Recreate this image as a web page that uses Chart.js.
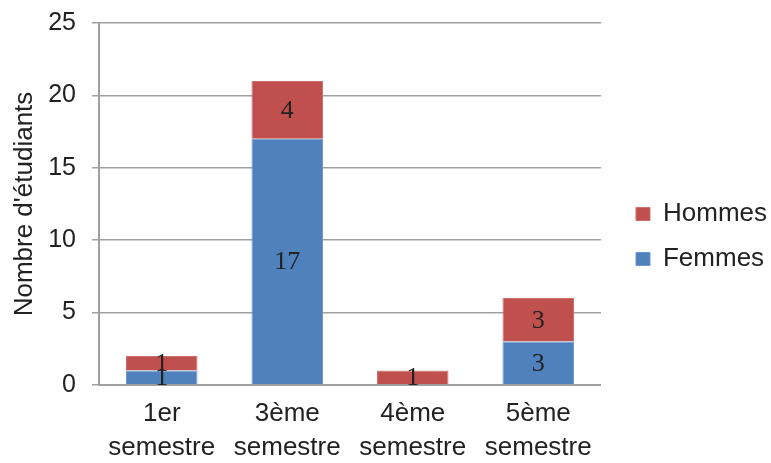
<!DOCTYPE html>
<html>
<head>
<meta charset="utf-8">
<script src="https://cdn.jsdelivr.net/npm/chart.js@4/dist/chart.umd.min.js"></script>
<style>
  html, body { margin: 0; padding: 0; background: #fff; }
  #wrap { width: 771px; height: 463px; }
</style>
</head>
<body>
<div id="wrap"><canvas id="chart"></canvas></div>
<script>
const categories = [['1er', 'semestre'], ['3ème', 'semestre'], ['4ème', 'semestre'], ['5ème', 'semestre']];
const femmes = [1, 17, 0, 3];
const hommes = [1, 4, 1, 3];
const yTicks = [0, 5, 10, 15, 20, 25];

const sans = '"Liberation Sans", Arial, sans-serif';

// étiquettes au centre de chaque segment
const segmentLabels = {
    id: 'segmentLabels',
    afterDatasetsDraw(chart) {
        const ctx = chart.ctx;
        ctx.save();
        ctx.font = '26px "Liberation Serif", serif';
        ctx.fillStyle = '#222';
        ctx.textAlign = 'center';
        ctx.textBaseline = 'middle';
        chart.data.datasets.forEach((ds, i) => {
            chart.getDatasetMeta(i).data.forEach((bar, j) => {
                if (!ds.data[j]) return;
                const mid = (bar.y + bar.base) / 2;
                ctx.fillText(ds.data[j], bar.x, mid + 1);
            });
        });
        ctx.restore();
    }
};

// décale la légende vers la droite
const legendShift = {
    id: 'legendShift',
    afterLayout(chart) {
        const lg = chart.legend;
        if (!lg) return;
        lg.left += 16;
        lg.right += 16;
    }
};

new Chart(document.getElementById('chart'), {
    type: 'bar',
    data: {
        labels: categories,
        datasets: [
            { label: 'Femmes', data: femmes, backgroundColor: '#4F81BD', borderColor: '#6F97CC', borderWidth: 1 },
            { label: 'Hommes', data: hommes, backgroundColor: '#C0504D', borderColor: '#CF716E', borderWidth: 1 }
        ]
    },
    options: {
        responsive: true,
        maintainAspectRatio: false,
        animation: false,
        layout: { padding: { top: 10, left: 7, right: 10, bottom: 0 } },
        datasets: { bar: { categoryPercentage: 1, barPercentage: 0.57 } },
        scales: {
            x: {
                stacked: true,
                grid: { display: false },
                border: { color: '#A0A0A0', width: 2 },
                ticks: { color: '#222', font: { family: sans, size: 26, lineHeight: 1.3 }, padding: 4, maxRotation: 0, minRotation: 0, autoSkip: false },
                afterFit: scale => { scale.height = 78; }
            },
            y: {
                stacked: true,
                min: 0,
                max: 25,
                afterBuildTicks: axis => { axis.ticks = yTicks.map(v => ({ value: v })); },
                grid: { color: '#A0A0A0', lineWidth: 1.5, tickLength: 7 },
                border: { color: '#A0A0A0', width: 2 },
                ticks: { color: '#222', font: { family: sans, size: 25 }, padding: 16 },
                title: { display: true, text: "Nombre d'étudiants", color: '#222', font: { family: sans, size: 26 }, padding: 2 },
                afterFit: scale => {
                    scale.width -= 10;
                    scale.paddingTop = 23;
                }
            }
        },
        plugins: {
            legend: {
                position: 'right',
                reverse: true,
                labels: {
                    color: '#222',
                    font: { family: sans, size: 26 },
                    boxWidth: 14,
                    boxHeight: 13,
                    padding: 19
                }
            },
            tooltip: { enabled: false }
        }
    },
    plugins: [segmentLabels, legendShift]
});
</script>
</body>
</html>
